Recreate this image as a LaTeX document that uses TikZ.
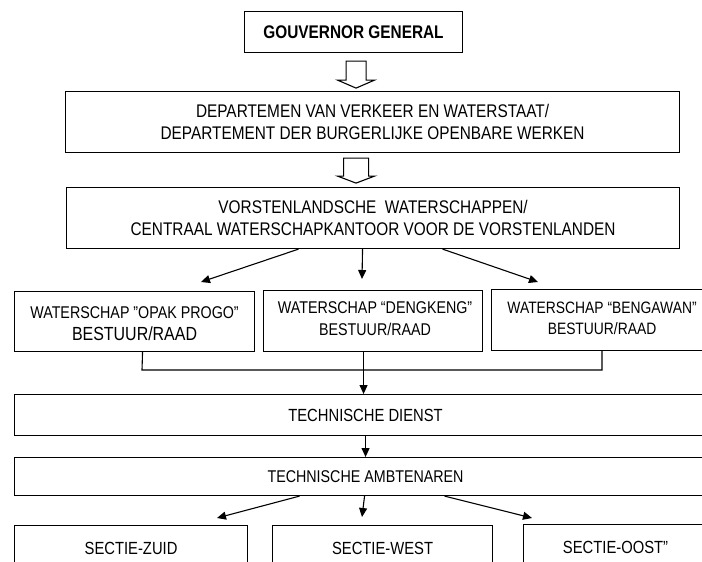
\documentclass[tikz,border=0pt]{standalone}
\usepackage{fontspec}
\setmainfont{Liberation Sans}[FakeStretch=0.84]
\usetikzlibrary{arrows.meta,calc}
\tikzset{
  box/.style={draw, line width=1.1pt, inner sep=0pt, anchor=north west},
  txt/.style={align=center, inner sep=0pt, font=\fontsize{18.3}{22}\selectfont},
  rowtxt/.style={align=center, inner sep=0pt, font=\fontsize{17}{22}\selectfont},
  lowtxt/.style={align=center, inner sep=0pt, font=\fontsize{17.6}{22}\selectfont},
  arr/.style={line width=1.1pt, -{Triangle[length=9pt,width=8pt]}},
  conn/.style={line width=1.1pt},
  hollow/.style={draw, line width=1.1pt, fill=white, line join=miter}
}
\begin{document}
\begin{tikzpicture}[x=1pt,y=-1pt]
\useasboundingbox (0,0) rectangle (702,562);
\clip (0,0) rectangle (702,562);
\fill[white] (0,0) rectangle (702,562);
% boxes
\node[box, minimum width=218pt, minimum height=41pt] (gg) at (244,11) {};
\node[txt, font=\fontsize{18.3}{22}\bfseries\selectfont] (ggt) at (gg.center) {GOUVERNOR GENERAL};
\node[box, minimum width=614pt, minimum height=61pt] (dep) at (65,91) {};
\node[txt] (dept) at (dep.center) {DEPARTEMEN VAN VERKEER EN WATERSTAAT/\\DEPARTEMENT DER BURGERLIJKE OPENBARE WERKEN};
\node[box, minimum width=613pt, minimum height=61pt] (vor) at (66,187) {};
\node[txt] (vort) at (vor.center) {VORSTENLANDSCHE \ WATERSCHAPPEN/\\CENTRAAL WATERSCHAPKANTOOR VOOR DE VORSTENLANDEN};
\node[box, minimum width=240pt, minimum height=60pt] (w1) at (14,291) {};
\node[rowtxt] (w1t) at ([yshift=-2pt]w1.center) {WATERSCHAP "OPAK PROGO"\\{\fontsize{19}{22}\selectfont BESTUUR/RAAD}};
\node[box, minimum width=219pt, minimum height=61pt] (w2) at (263,290) {};
\node[rowtxt] (w2t) at ([xshift=2pt,yshift=2.5pt]w2.center) {WATERSCHAP “DENGKENG"\\BESTUUR/RAAD};
\node[box, minimum width=225pt, minimum height=61pt] (w3) at (491,289) {};
\node[rowtxt, font=\fontsize{16.5}{21}\selectfont] (w3t) at ([xshift=-2pt,yshift=1.5pt]w3.center) {WATERSCHAP “BENGAWAN"\\BESTUUR/RAAD};
\node[box, minimum width=702pt, minimum height=41pt] (td) at (14,394) {};
\node[lowtxt] (tdt) at (td.center) {TECHNISCHE DIENST};
\node[box, minimum width=702pt, minimum height=38pt] (ta) at (14,457) {};
\node[lowtxt, font=\fontsize{17}{22}\selectfont] (tat) at (ta.center) {TECHNISCHE AMBTENAREN};
\node[box, minimum width=233pt, minimum height=45pt] (s1) at (14,525) {};
\node[lowtxt] (s1t) at (s1.center) {SECTIE-ZUID};
\node[box, minimum width=220pt, minimum height=45pt] (s2) at (272,525) {};
\node[lowtxt] (s2t) at (s2.center) {SECTIE-WEST};
\node[box, minimum width=200pt, minimum height=45pt] (s3) at (523,524) {};
\node[lowtxt] (s3t) at ([xshift=-8pt]s3.center) {SECTIE-OOST”};
% hollow arrows
\coordinate (h1) at ($(gg.south)+(2.5,8)$);
\draw[hollow] (h1) ++(-10,0) -- ++(0,19) -- ++(-8.5,0) -- ++(18.5,8) -- ++(18.5,-8) -- ++(-8.5,0) -- ++(0,-19) -- cycle;
\coordinate (h2) at ($(dep.south)+(-16.5,5)$);
\draw[hollow] (h2) ++(-12.5,0) -- ++(0,18) -- ++(-6,0) -- ++(18.5,7) -- ++(18.5,-7) -- ++(-6,0) -- ++(0,-18) -- cycle;
% fan arrows from vor
\coordinate (f1) at (201,282);
\coordinate (f2) at (362,279);
\coordinate (f3) at (538,282);
\draw[arr] ([xshift=-74.5pt]vor.south) -- (f1);
\draw[arr] ([xshift=-10.5pt]vor.south) -- (f2);
\draw[arr] ([xshift=69.5pt]vor.south) -- (f3);
% bracket
\coordinate (bl) at (142,370);
\coordinate (br) at (602,370);
\draw[conn] ([xshift=8pt]w1.south) -- (bl) -- (br) -- (w3.south -| br);
\draw[arr] ([xshift=-9.5pt]w2.south) -- (td.north -| {$(w2.south)+(-9.5,0)$});
\draw[arr] (td.south) -- (ta.north);
% fan arrows from ta
\coordinate (g1) at (217,518);
\coordinate (g2) at (362,517);
\coordinate (g3) at (532,518);
\draw[arr] ([xshift=-66pt]ta.south) -- (g1);
\draw[arr] ([xshift=-1pt]ta.south) -- (g2);
\draw[arr] ([xshift=79pt]ta.south) -- (g3);
\end{tikzpicture}
\end{document}
